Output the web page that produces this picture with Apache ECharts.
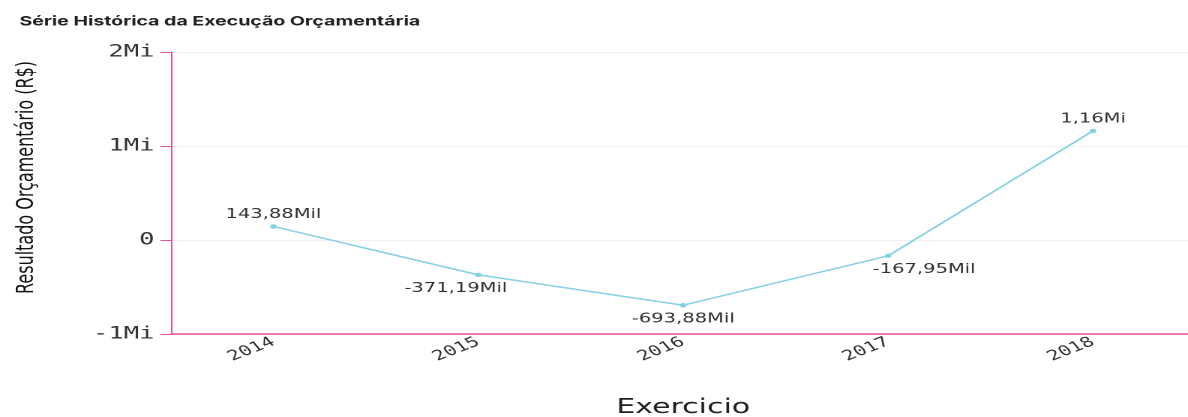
<!DOCTYPE html>
<html>
<head>
<meta charset="utf-8">
<script src="https://cdn.jsdelivr.net/npm/echarts@6/dist/echarts.min.js"></script>
<style>
html,body{margin:0;padding:0;background:#fff;overflow:hidden;}
#c{width:792px;height:417px;transform:scaleX(1.5);transform-origin:0 0;}
</style>
</head>
<body>
<div id="c"></div>
<script>
const title = 'Série Histórica da Execução Orçamentária';
const categories = ['2014', '2015', '2016', '2017', '2018'];
const values = [143880, -371190, -693880, -167950, 1160000];
const labelPositions = ['top', 'bottom', 'bottom', 'bottom', 'top'];
const labelShift = [0, -15, 0, 24, 0];
const yTicks = [-1000000, 0, 1000000, 2000000];
const xName = 'Exercicio';
const yName = 'Resultado Orçamentário (R$)';

function fmtValue(v) {
  const a = Math.abs(v);
  if (a >= 1e6) return (v / 1e6).toFixed(2).replace('.', ',') + 'Mi';
  if (a >= 1e3) return (v / 1e3).toFixed(2).replace('.', ',') + 'Mil';
  return String(v);
}
function fmtAxis(v) {
  if (v === 0) return '0';
  return (v / 1e6) + 'Mi';
}

const pink = '#e8509a';
const chart = echarts.init(document.getElementById('c'), null, {renderer: 'canvas', devicePixelRatio: 2});
chart.setOption({
  animation: false,
  backgroundColor: '#fff',
  title: {
    text: title, left: 13, top: 15, padding: 0,
    textStyle: {fontFamily: 'Inter', fontWeight: 'bold', fontSize: 13, color: '#222'}
  },
  grid: {left: 114, top: 52, width: 683, height: 282, containLabel: false, outerBoundsMode: 'none'},
  xAxis: {
    type: 'category',
    data: categories,
    boundaryGap: true,
    name: xName,
    nameLocation: 'middle',
    nameGap: 64,
    nameTextStyle: {fontFamily: 'DejaVu Sans', fontSize: 20, color: '#222'},
    axisLine: {show: true, onZero: false, lineStyle: {color: pink, width: 1.5}},
    axisTick: {show: false},
    axisLabel: {rotate: 30, margin: 7, fontFamily: 'DejaVu Sans Mono', fontSize: 14, color: '#333'},
    splitLine: {show: false}
  },
  yAxis: {
    type: 'value',
    min: yTicks[0], max: yTicks[yTicks.length - 1], interval: 1000000,
    name: yName,
    nameLocation: 'middle',
    nameGap: 88,
    nameTextStyle: {fontFamily: 'DejaVu Sans', fontSize: 16, color: '#111', padding: [0, 0, 0, 31]},
    axisLine: {show: true, lineStyle: {color: pink, width: 1}},
    axisTick: {show: true, length: 7, lineStyle: {color: pink, width: 1}},
    axisLabel: {formatter: fmtAxis, margin: 11, fontFamily: 'DejaVu Sans Mono', fontSize: 17, color: '#333'},
    splitLine: {show: true, lineStyle: {color: '#f0f0f0', width: 1}}
  },
  series: [{
    type: 'line',
    data: values.map((v, i) => ({
      value: v,
      label: {
        position: labelPositions[i],
        distance: labelPositions[i] === 'top' ? 3 : 5,
        offset: [labelShift[i], 0]
      }
    })),
    symbol: 'circle',
    symbolSize: 4.5,
    itemStyle: {color: '#86d0e6'},
    lineStyle: {color: '#86d0e6', width: 1.5},
    label: {
      show: true,
      formatter: p => fmtValue(p.value),
      fontFamily: 'DejaVu Sans', fontSize: 13, color: '#333'
    }
  }]
});
</script>
</body>
</html>
